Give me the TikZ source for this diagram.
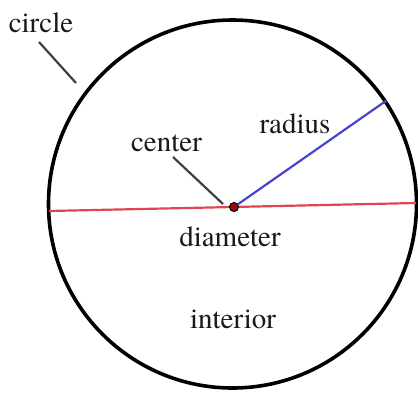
\documentclass[tikz,border=0pt]{standalone}
\usepackage{fontspec}
\setmainfont{TeX Gyre Termes}
\begin{document}
\begin{tikzpicture}[x=1pt,y=-1pt,
  lbl/.style={anchor=base,inner sep=0pt,font=\fontsize{29}{34}\selectfont,text=black!90},
  pointer/.style={draw=black!75,line width=2.2pt},
  rimline/.style={draw=black,line width=3.6pt},
  diam/.style={draw={rgb,255:red,222;green,70;blue,80},line width=2.2pt},
  rad/.style={draw={rgb,255:red,70;green,70;blue,205},line width=2.2pt},
  dotstyle/.style={circle,fill={rgb,255:red,150;green,10;blue,10},draw=black,line width=1pt,minimum size=9pt,inner sep=0pt}]
\useasboundingbox (0,0) rectangle (418,392);
\coordinate (O) at (232.5,204);
\coordinate (dL) at (49,211);
\coordinate (dR) at (416,203);
\coordinate (rE) at (386.5,100.5);
\coordinate (p1s) at (39,42);
\coordinate (p1e) at (76,83);
\coordinate (p2s) at (173,157);
\coordinate (p2e) at (223,204);
\draw[rimline] (O) circle[radius=184];
\draw[diam] (dL) -- (dR);
\node[dotstyle] (C) at (234,207) {};
\draw[rad] (C) -- (rE);
\draw[pointer] (p1s) -- (p1e);
\draw[pointer] (p2s) -- (p2e);
\node[lbl] (tcircle) at (41,32) {circle};
\node[lbl] (tcenter) at (166.5,151) {center};
\node[lbl] (tradius) at (295,133) {radius};
\node[lbl] (tdiam) at (230,246) {diameter};
\node[lbl] (tint) at (233,328) {interior};
\end{tikzpicture}
\end{document}
